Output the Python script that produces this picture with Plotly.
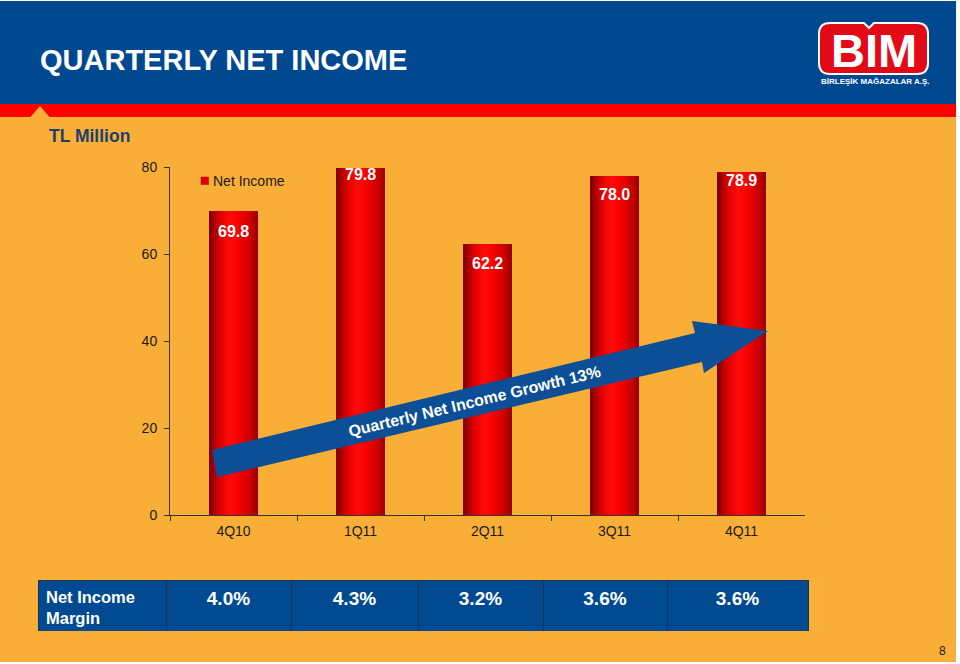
import plotly.graph_objects as go

# ---------------- data ----------------
quarters = ["4Q10", "1Q11", "2Q11", "3Q11", "4Q11"]
net_income = [69.8, 79.8, 62.2, 78.0, 78.9]
margin_labels = ["4.0%", "4.3%", "3.2%", "3.6%", "3.6%"]
margin_row_title = "Net Income<br>Margin"
y_tick_values = [0, 20, 40, 60, 80]
series_name = "Net Income"
arrow_label = "Quarterly Net Income Growth 13%"
title_text = "QUARTERLY NET INCOME"
unit_text = "TL Million"
logo_text = "BIM"
logo_subtext = "BİRLEŞİK MAĞAZALAR A.Ş."
page_number = "8"

# ---------------- style ----------------
W, H = 960, 664
FONT = "Liberation Sans, Arial, sans-serif"
ORANGE = "#F9AF37"
HEADER_BLUE = "#004990"
STRIPE_RED = "#FF0000"
ARROW_BLUE = "#0C4F96"
TABLE_BLUE = "#004A91"
NAVY_TEXT = "#1E3F6C"
AXIS_COLOR = "#3a3225"
TEXT_DARK = "#1a1a1a"
LABEL_SHIFT = [-20, -7, -19, -19, -9]   # label offsets (px) below bar tops


def px(x):
    return x / W


def py(y):
    return 1 - y / H


def path(points, close=True):
    s = "M " + " L ".join(f"{px(x):.5f},{py(y):.5f}" for x, y in points)
    return s + (" Z" if close else "")


fig = go.Figure()

# cylinder-like bars: the same series drawn as thin vertical strips
BAR_W = 0.39
N_STRIPS = 26
stops = [(0.0, (125, 0, 10)), (0.25, (225, 0, 0)), (0.42, (255, 10, 10)),
         (0.60, (248, 2, 2)), (0.85, (200, 0, 0)), (1.0, (150, 0, 4))]


def grad(t):
    for (t0, c0), (t1, c1) in zip(stops[:-1], stops[1:]):
        if t0 <= t <= t1:
            f = (t - t0) / (t1 - t0)
            return "rgb(%d,%d,%d)" % tuple(round(a + (b - a) * f) for a, b in zip(c0, c1))
    return "rgb(150,0,4)"


step = BAR_W / N_STRIPS
for i in range(N_STRIPS):
    fig.add_trace(go.Bar(
        x=quarters, y=net_income, name=series_name,
        offset=-BAR_W / 2 + i * step,
        width=step * (1.6 if i < N_STRIPS - 1 else 1.0),
        marker=dict(color=grad((i + 0.5) / N_STRIPS), line=dict(width=0)),
        showlegend=False,
        hoverinfo="x+y" if i == N_STRIPS // 2 else "skip",
    ))

# value labels
for q, v, s in zip(quarters, net_income, LABEL_SHIFT):
    fig.add_annotation(x=q, y=v, xref="x", yref="y", text=f"<b>{v:.1f}</b>",
                       showarrow=False, yanchor="middle", yshift=s,
                       font=dict(family=FONT, size=16, color="white"))

# margin table
fig.add_trace(go.Table(
    domain=dict(x=[px(38), px(808)], y=[py(632), py(580)]),
    columnwidth=[128, 125, 127, 125, 124, 141],
    header=dict(
        values=[f"<b>{margin_row_title}</b>"] + [f"<b>{m}</b>" for m in margin_labels],
        fill_color=TABLE_BLUE,
        line=dict(color="#17335a", width=1),
        align=["left"] + ["center"] * len(margin_labels),
        font=dict(family=FONT, size=[16.5] + [19] * len(margin_labels), color="white"),
        height=50,
    ),
))

shapes = []
# page background
shapes.append(dict(type="rect", xref="paper", yref="paper", layer="below",
                   x0=px(0), x1=px(956), y0=py(662), y1=py(1),
                   fillcolor=ORANGE, line=dict(width=0)))
# header band
shapes.append(dict(type="rect", xref="paper", yref="paper", layer="above",
                   x0=px(0), x1=px(956), y0=py(104), y1=py(1),
                   fillcolor=HEADER_BLUE, line=dict(width=0)))
shapes.append(dict(type="rect", xref="paper", yref="paper", layer="above",
                   x0=px(0), x1=px(956), y0=py(117), y1=py(104),
                   fillcolor=STRIPE_RED, line=dict(width=0)))
shapes.append(dict(type="path", xref="paper", yref="paper", layer="above",
                   path=path([(30, 117.5), (40, 106), (50, 117.5)]),
                   fillcolor=ORANGE, line=dict(width=0)))

# logo badge (rounded rectangle with a small notch)
L, R, T, B, r = 819, 928, 23, 74, 11
logo_pts = (f"M {px(L + r):.5f},{py(T):.5f} L {px(864):.5f},{py(T):.5f} "
            f"L {px(869):.5f},{py(T + 5):.5f} L {px(874):.5f},{py(T):.5f} "
            f"L {px(R - r):.5f},{py(T):.5f} Q {px(R):.5f},{py(T):.5f} {px(R):.5f},{py(T + r):.5f} "
            f"L {px(R):.5f},{py(B - r):.5f} Q {px(R):.5f},{py(B):.5f} {px(R - r):.5f},{py(B):.5f} "
            f"L {px(L + r):.5f},{py(B):.5f} Q {px(L):.5f},{py(B):.5f} {px(L):.5f},{py(B - r):.5f} "
            f"L {px(L):.5f},{py(T + r):.5f} Q {px(L):.5f},{py(T):.5f} {px(L + r):.5f},{py(T):.5f} Z")
shapes.append(dict(type="path", xref="paper", yref="paper", layer="above",
                   path=logo_pts, fillcolor="#E30A17", line=dict(color="white", width=2)))

# growth arrow
arrow_pts = [(212, 450), (695, 333), (692, 321), (768, 331), (704, 373),
             (702, 362), (217, 477)]
shapes.append(dict(type="path", xref="paper", yref="paper", layer="above",
                   path=path(arrow_pts), fillcolor=ARROW_BLUE, line=dict(width=0)))

# legend swatch
shapes.append(dict(type="rect", xref="paper", yref="paper", layer="above",
                   x0=px(201), x1=px(208.5), y0=py(184.5), y1=py(177),
                   fillcolor="#E00000", line=dict(color="#b00000", width=0.5)))

fig.update_layout(shapes=shapes)

ann = [
    dict(x=px(38), y=py(60), text=f"<b>{title_text}</b>", xanchor="left",
         font=dict(family=FONT, size=29, color="white")),
    dict(x=px(47), y=py(136), text=f"<b>{unit_text}</b>", xanchor="left",
         font=dict(family=FONT, size=17.5, color=NAVY_TEXT)),
    dict(x=px(874), y=py(50), text=f"<b>{logo_text}</b>", xanchor="center",
         font=dict(family=FONT, size=47, color="white")),
    dict(x=px(875), y=py(82), text=f"<b>{logo_subtext}</b>", xanchor="center",
         font=dict(family=FONT, size=8, color="white")),
    dict(x=px(211), y=py(181), text=series_name, xanchor="left",
         font=dict(family=FONT, size=14, color=TEXT_DARK)),
    dict(x=px(474), y=py(401), text=f"<b>{arrow_label}</b>", xanchor="center",
         textangle=-13.5, font=dict(family=FONT, size=16, color="white")),
    dict(x=px(942), y=py(651), text=page_number, xanchor="center",
         font=dict(family=FONT, size=12, color=TEXT_DARK)),
]
for a in ann:
    a.update(xref="paper", yref="paper", showarrow=False, yanchor="middle")
    fig.add_annotation(**a)

fig.update_layout(
    width=W, height=H,
    margin=dict(l=0, r=0, t=0, b=0, pad=0),
    paper_bgcolor="white",
    plot_bgcolor="rgba(0,0,0,0)",
    barmode="overlay",
    bargap=0,
    showlegend=False,
    font=dict(family=FONT, color=TEXT_DARK),
    xaxis=dict(
        domain=[px(170), px(805)], type="category", categoryorder="array",
        categoryarray=quarters, range=[-0.5, 4.5],
        showline=True, linecolor=AXIS_COLOR, linewidth=1,
        ticks="outside", tickson="boundaries", ticklen=5, tickcolor=AXIS_COLOR,
        ticklabelstandoff=3,
        showgrid=False, zeroline=False, automargin=False,
        tickfont=dict(family=FONT, size=14, color=TEXT_DARK),
        fixedrange=True,
    ),
    yaxis=dict(
        domain=[py(515), py(167)], range=[0, 80],
        tickmode="array", tickvals=y_tick_values,
        showline=True, linecolor=AXIS_COLOR, linewidth=1,
        ticks="outside", ticklen=5, tickcolor=AXIS_COLOR,
        ticklabelstandoff=4,
        showgrid=False, zeroline=False, automargin=False,
        tickfont=dict(family=FONT, size=14, color=TEXT_DARK),
        fixedrange=True,
    ),
)

fig.write_html("out.html", config={"displayModeBar": False})
